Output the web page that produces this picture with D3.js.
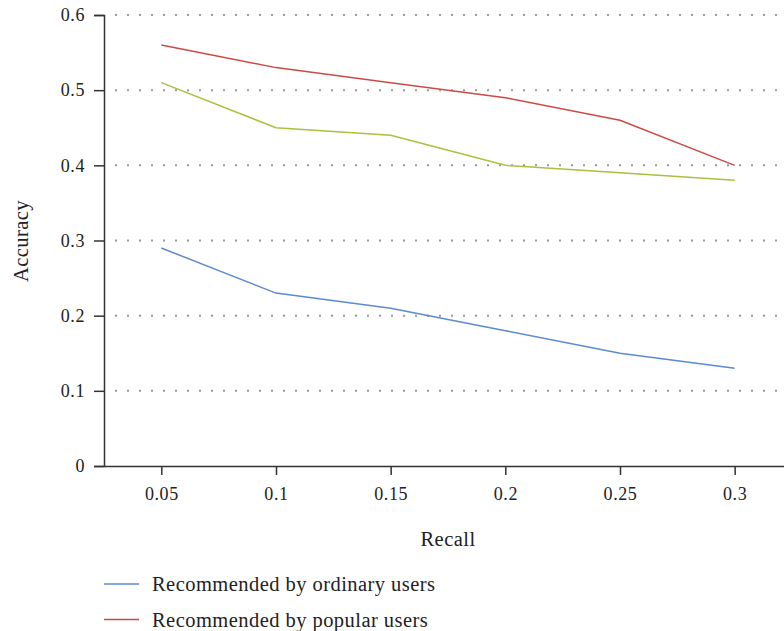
<!DOCTYPE html>
<html><head><meta charset="utf-8">
<script src="https://cdn.jsdelivr.net/npm/d3@7"></script>
<style>body{margin:0;background:#fff}svg{display:block}text{font-family:"Liberation Serif","DejaVu Serif",serif}</style>
</head><body>
<svg id="c" width="784" height="631"></svg>
<script>
const categories = ["0.05","0.1","0.15","0.2","0.25","0.3"];
const ordinary = [0.29,0.23,0.21,0.18,0.15,0.13];
const popular = [0.56,0.53,0.51,0.49,0.46,0.40];
const third = [0.51,0.45,0.44,0.40,0.39,0.38];
const yTicks = [0,0.1,0.2,0.3,0.4,0.5,0.6];
const legendLabels = ["Recommended by ordinary users","Recommended by popular users"];

const svg = d3.select("#c");
const fs = 20.5, ls = "0.45px", tfs = 18, tls = "0.6px";
const mLeft = 104, mRight = 792, mTop = 15, mBottom = 466;
const x = d3.scalePoint().domain(categories).range([mLeft, mRight]).padding(0.5);
const y = d3.scaleLinear().domain([0,0.6]).range([mBottom, mTop]);

// grid
svg.append("g").selectAll("line").data(yTicks.filter(d=>d>0)).join("line")
  .attr("x1", mLeft+11).attr("x2", 784).attr("y1", d=>y(d)).attr("y2", d=>y(d))
  .attr("stroke", "#999").attr("stroke-width", 2).attr("stroke-dasharray", "2,10");

// y axis
const ya = svg.append("g").attr("transform", `translate(${mLeft},0)`)
  .call(d3.axisLeft(y).tickValues(yTicks).tickFormat(d=>d===0?"0":d3.format(".1f")(d)).tickSize(10).tickPadding(9));
ya.attr("font-family", null).attr("font-size", null);
ya.select(".domain").attr("stroke", "#333").attr("stroke-width", 1.5);
ya.selectAll(".tick line").attr("stroke", "#333").attr("stroke-width", 1.5);
ya.selectAll("text").style("font-size", tfs+"px").style("letter-spacing", tls).attr("fill", "#222");

// x axis
const xa = svg.append("g").attr("transform", `translate(0,${mBottom})`)
  .call(d3.axisBottom(x).tickSize(9).tickPadding(12).tickSizeOuter(0));
xa.attr("font-family", null).attr("font-size", null);
xa.select(".domain").attr("stroke", "#333").attr("stroke-width", 1.5);
xa.selectAll(".tick line").attr("stroke", "#333").attr("stroke-width", 1.5);
xa.selectAll("text").style("font-size", tfs+"px").style("letter-spacing", tls).attr("fill", "#222");

const line = d3.line().x((d,i)=>x(categories[i])).y(d=>y(d));
const series = [
  {v: ordinary, c: "#5b8bd2"},
  {v: popular, c: "#cc4a46"},
  {v: third, c: "#a9c13f"}
];
svg.append("g").selectAll("path").data(series).join("path")
  .attr("d", d=>line(d.v)).attr("fill","none").attr("stroke", d=>d.c).attr("stroke-width", 1.5);

// axis titles
svg.append("text").attr("transform", "translate(28,241) rotate(-90)").attr("text-anchor","middle")
  .style("font-size", fs+"px").style("letter-spacing", ls).attr("fill","#222").text("Accuracy");
svg.append("text").attr("x", 448).attr("y", 546).attr("text-anchor","middle")
  .style("font-size", fs+"px").style("letter-spacing", ls).attr("fill","#222").text("Recall");

// legend
const lg = svg.append("g").selectAll("g").data(legendLabels).join("g")
  .attr("transform", (d,i)=>`translate(104,${584+i*35.5})`);
lg.append("line").attr("x1",0).attr("x2",35).attr("stroke",(d,i)=>series[i].c).attr("stroke-width",1.5);
lg.append("text").attr("x", 48).attr("y", 7).style("font-size", fs+"px").style("letter-spacing", ls).attr("fill","#222").text(d=>d);
</script>
</body></html>
